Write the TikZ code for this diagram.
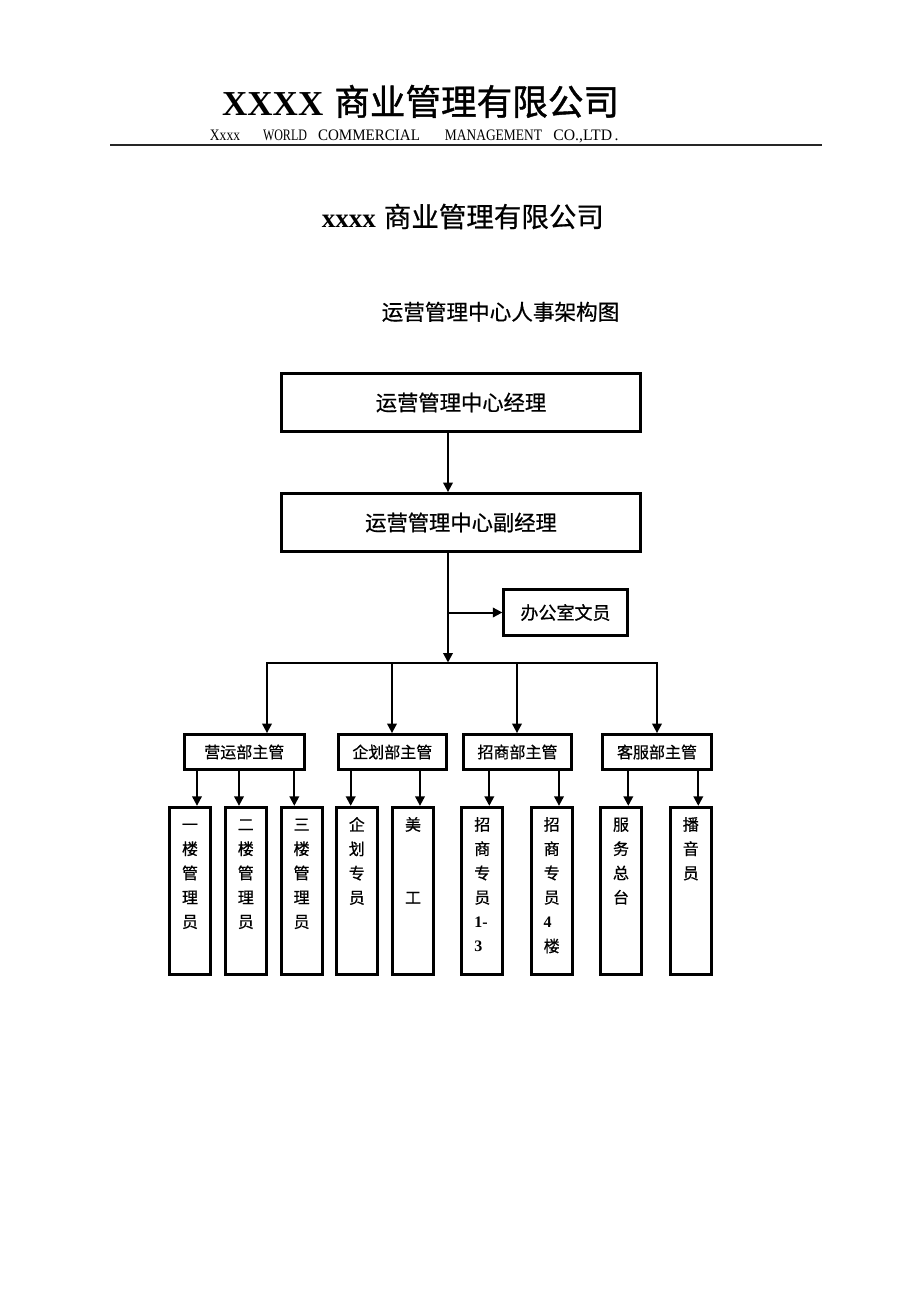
\documentclass[tikz,border=0pt]{standalone}
\usepackage{fontspec}
\setmainfont{Liberation Serif}
\newfontfamily\cjk[FakeBold=0.6]{Noto Sans CJK SC}
\newfontfamily\cjkheavy[FakeBold=1.2]{Noto Sans CJK SC}
\usepackage{tikz}
\usetikzlibrary{positioning,arrows.meta}
\definecolor{ink}{HTML}{000000}
\definecolor{rulegray}{HTML}{262626}
\newcommand{\leafnum}[1]{\makebox[16pt][l]{\rmfamily\bfseries #1}}
\newcommand{\leafstrut}{\vphantom{招}}
\tikzset{
  bigbox/.style={draw=ink, line width=2.8pt, minimum width=359.5pt, minimum height=58pt, inner sep=0pt, font=\cjk\fontsize{21.3}{25}\selectfont},
  officebox/.style={draw=ink, line width=2.8pt, minimum width=123.5pt, minimum height=46pt, inner sep=0pt, font=\cjk\fontsize{18}{22}\selectfont},
  supbox/.style={draw=ink, line width=2.8pt, minimum height=35pt, inner sep=0pt, font=\cjk\fontsize{16}{20}\selectfont},
  leafbox/.style={draw=ink, line width=2.8pt, minimum width=41pt, minimum height=167.5pt, inner sep=0pt},
  leaftext/.style={font=\cjk\fontsize{16}{24.3}\selectfont, align=center, inner sep=0pt},
  subword/.style={anchor=base, inner sep=0pt, font=\fontsize{16}{18}\selectfont},
  arr/.style={draw=ink, line width=2pt, -{Triangle[length=9.5pt,width=9.5pt]}},
  wire/.style={draw=ink, line width=2pt, line cap=rect},
}

\begin{document}
\begin{tikzpicture}[x=1pt,y=-1pt]
  \useasboundingbox[fill=white] (0,0) rectangle (920,1302);

  % letterhead
  \node[anchor=base west, inner sep=0pt] (head) at (222,115)
    {\fontsize{35}{40}\selectfont\textbf{XXXX}\hspace{11pt}{\cjkheavy\fontsize{35.6}{40}\selectfont 商业管理有限公司}};
  \foreach \w/\cx/\sx in {Xxxx/225/0.845, WORLD/285/0.75, COMMERCIAL/369/0.94,
                          MANAGEMENT/493.5/0.84, {CO.,LTD\,.}/586/0.98}
    \node[subword] at (\cx,140.7) {\scalebox{\sx}[1]{\w}};
  \draw[rulegray, line width=1.3pt] (110,145) -- (822,145);

  \node[anchor=base west, inner sep=0pt] (name) at (321.7,227)
    {\fontsize{27}{31}\selectfont\textbf{xxxx}\hspace{8pt}{\cjk\fontsize{27.5}{31}\selectfont 商业管理有限公司}};
  \node[anchor=base west, inner sep=0pt] (chart) at (381.5,320)
    {\cjk\fontsize{21.6}{26}\selectfont 运营管理中心人事架构图};

  % upper chain
  \node[bigbox] (mgr) at (461,402.5) {运营管理中心经理};
  \node[bigbox] (dep) at (461,522.5) {运营管理中心副经理};
  \node[officebox] (office) at (565.5,612.5) {办公室文员};
  \coordinate (hub) at (448,662.5);

  \draw[arr] (hub |- mgr.south) -- (hub |- dep.north);
  \draw[arr] (hub |- dep.south) -- (hub);
  \draw[arr] (hub |- office.west) -- (office.west);

  % department heads
  \node[supbox, minimum width=120pt] (supA) at (244.3,752) {营运部主管};
  \node[supbox, minimum width=108pt] (supB) at (392.3,752) {企划部主管};
  \node[supbox, minimum width=108pt] (supC) at (517.5,752) {招商部主管};
  \node[supbox, minimum width=109pt] (supD) at (657,752) {客服部主管};

  \coordinate (bus1) at (267,662.5);
  \coordinate (bus2) at (392,662.5);
  \coordinate (bus3) at (517,662.5);
  \coordinate (bus4) at (657,662.5);
  \draw[wire] (bus1) -- (bus4);
  \draw[arr] (bus1) -- (bus1 |- supA.north);
  \draw[arr] (bus2) -- (bus2 |- supB.north);
  \draw[arr] (bus3) -- (bus3 |- supC.north);
  \draw[arr] (bus4) -- (bus4 |- supD.north);

  % staff
  \foreach \n/\cx in {l1/190, l2/245.8, l3/301.6, l4/356.8, l5/413,
                      l6/482.3, l7/551.7, l8/621, l9/690.8}
    \node[leafbox] (\n) at (\cx,891) {};

  \node[leaftext, below=11pt of l1.north] {\leafstrut 一\\楼\\管\\理\\员};
  \node[leaftext, below=11pt of l2.north] {\leafstrut 二\\楼\\管\\理\\员};
  \node[leaftext, below=11pt of l3.north] {\leafstrut 三\\楼\\管\\理\\员};
  \node[leaftext, below=11pt of l4.north] {\leafstrut 企\\划\\专\\员};
  \node[leaftext, below=11pt of l5.north] {\leafstrut 美\\[48.6pt]工};
  \node[leaftext, below=11pt of l6.north] {\leafstrut 招\\商\\专\\员\\\leafnum{1-}\\\leafnum{3}};
  \node[leaftext, below=11pt of l7.north] {\leafstrut 招\\商\\专\\员\\\leafnum{4}\\楼};
  \node[leaftext, below=11pt of l8.north] {\leafstrut 服\\务\\总\\台};
  \node[leaftext, below=11pt of l9.north] {\leafstrut 播\\音\\员};

  \foreach \x/\s/\l in {197/supA/l1, 239/supA/l2, 294.3/supA/l3, 350.7/supB/l4, 420/supB/l5,
                        489.3/supC/l6, 559/supC/l7, 628.3/supD/l8, 698.3/supD/l9}
    \draw[arr] (\x,0 |- \s.south) -- (\x,0 |- \l.north);
\end{tikzpicture}
\end{document}
